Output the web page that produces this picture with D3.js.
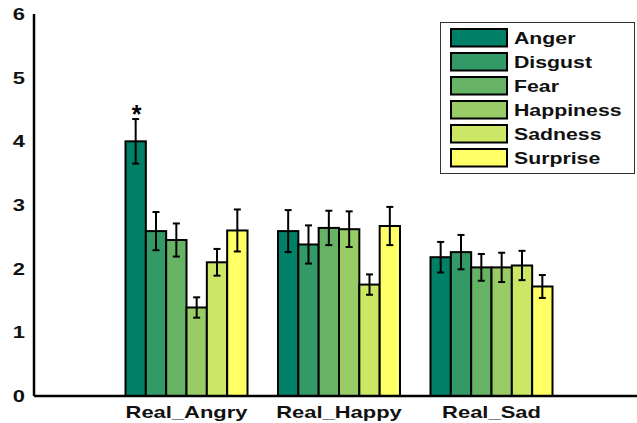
<!DOCTYPE html>
<html><head><meta charset="utf-8">
<script src="https://cdn.jsdelivr.net/npm/d3@7"></script>
<style>body{margin:0;background:#fff}svg{display:block}</style>
</head><body>
<svg id="c" width="637" height="423"></svg>
<script>
const categories = ["Real_Angry", "Real_Happy", "Real_Sad"];
const series = ["Anger", "Disgust", "Fear", "Happiness", "Sadness", "Surprise"];
const colors = ["#008066", "#339966", "#66b366", "#99cc66", "#cce666", "#ffff66"];
const angryVals = [4.00, 2.59, 2.45, 1.39, 2.10, 2.60];
const happyVals = [2.59, 2.38, 2.64, 2.62, 1.75, 2.67];
const sadVals = [2.18, 2.26, 2.02, 2.02, 2.05, 1.72];
const angryErr = [0.35, 0.30, 0.26, 0.16, 0.21, 0.33];
const happyErr = [0.33, 0.30, 0.27, 0.28, 0.16, 0.30];
const sadErr = [0.24, 0.27, 0.21, 0.23, 0.23, 0.18];
const yTicks = [0, 1, 2, 3, 4, 5, 6];
const starMark = {cat: 0, ser: 0, label: "*"};

const values = [angryVals, happyVals, sadVals];
const errors = [angryErr, happyErr, sadErr];

const svg = d3.select("#c");
const SX = 1.33;
const FONT = "'Liberation Sans', Arial, Helvetica, sans-serif";

const x = d3.scaleLinear().domain([0, 4]).range([34, 644]);
const y = d3.scaleLinear().domain([0, 6]).range([396, 14]);
const groupW = 0.8;
const inner = d3.scaleBand().domain(d3.range(series.length)).range([-groupW / 2, groupW / 2]);

const data = [];
categories.forEach((c, ci) => series.forEach((s, si) => {
  data.push({ci, si, v: values[ci][si], e: errors[ci][si]});
}));

function cx(d) { return x(d.ci + 1 + inner(d.si) + inner.bandwidth() / 2); }

// bars
svg.append("g").selectAll("rect").data(data).join("rect")
  .attr("x", d => x(d.ci + 1 + inner(d.si)))
  .attr("y", d => y(d.v))
  .attr("width", x(inner.bandwidth()) - x(0))
  .attr("height", d => y(0) - y(d.v))
  .attr("fill", d => colors[d.si])
  .attr("stroke", "#000").attr("stroke-width", 2);

// error bars
const eg = svg.append("g").attr("stroke", "#000").attr("stroke-width", 2);
eg.selectAll("line.v").data(data).join("line").attr("class", "v")
  .attr("x1", cx).attr("x2", cx)
  .attr("y1", d => y(d.v + d.e)).attr("y2", d => y(d.v - d.e));
eg.selectAll("line.t").data(data).join("line").attr("class", "t")
  .attr("x1", d => cx(d) - 3.5).attr("x2", d => cx(d) + 3.5)
  .attr("y1", d => y(d.v + d.e)).attr("y2", d => y(d.v + d.e));
eg.selectAll("line.b").data(data).join("line").attr("class", "b")
  .attr("x1", d => cx(d) - 3.5).attr("x2", d => cx(d) + 3.5)
  .attr("y1", d => y(d.v - d.e)).attr("y2", d => y(d.v - d.e));

// star
const sd = data.find(d => d.ci === starMark.cat && d.si === starMark.ser);
svg.append("text").attr("x", cx(sd) + 1).attr("y", y(sd.v + sd.e) + 4)
  .attr("text-anchor", "middle").attr("font-family", FONT).attr("font-weight", "bold")
  .attr("font-size", 25).text(starMark.label);

// axes
svg.append("line").attr("x1", x(0)).attr("x2", 637).attr("y1", y(0)).attr("y2", y(0))
  .attr("stroke", "#000").attr("stroke-width", 2.5);
svg.append("line").attr("x1", x(0)).attr("x2", x(0)).attr("y1", y(0)).attr("y2", y(6))
  .attr("stroke", "#000").attr("stroke-width", 2.5);

function stretchedText(g, px, py, txt, size, anchor) {
  const t = g.append("g").attr("transform", `translate(${px},${py}) scale(${SX},1)`);
  t.append("text").attr("text-anchor", anchor).attr("font-family", FONT)
    .attr("font-weight", "bold").attr("font-size", size).attr("fill", "#111").text(txt);
}

const tg = svg.append("g");
yTicks.forEach(v => stretchedText(tg, 25, y(v) + 6, String(v), 16.5, "end"));
categories.forEach((c, i) => stretchedText(tg, x(i + 1), 418, c, 16.5, "middle"));

// legend
const lg = svg.append("g");
lg.append("rect").attr("x", 440.5).attr("y", 22.5).attr("width", 194).attr("height", 151)
  .attr("fill", "#fff").attr("stroke", "#333").attr("stroke-width", 1);
series.forEach((s, i) => {
  const yy = 29 + i * 24;
  lg.append("rect").attr("x", 451).attr("y", yy).attr("width", 56).attr("height", 17.5)
    .attr("fill", colors[i]).attr("stroke", "#000").attr("stroke-width", 2);
  stretchedText(lg, 514, yy + 15, s, 16, "start");
});
</script>
</body></html>
